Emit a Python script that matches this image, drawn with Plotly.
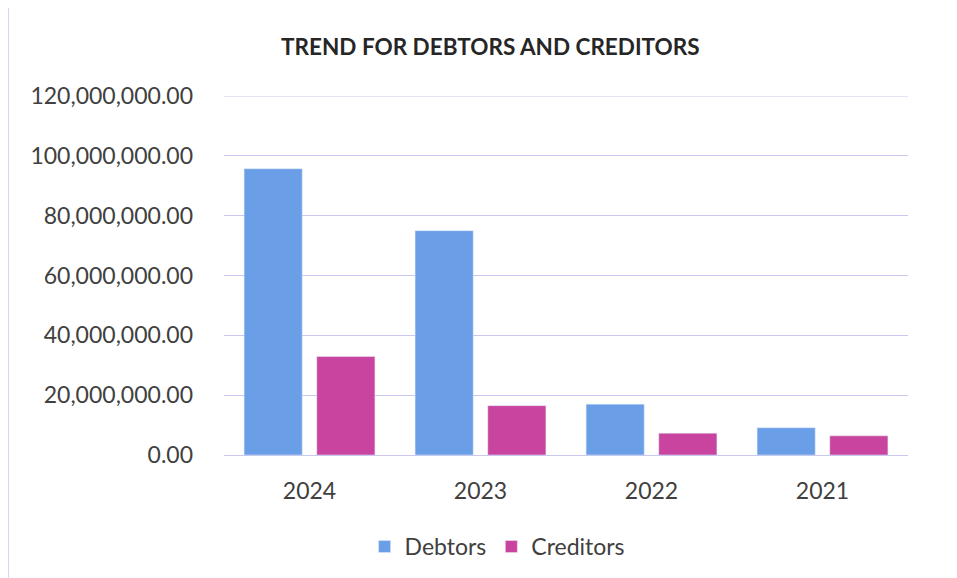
import plotly.graph_objects as go

years = ["2024", "2023", "2022", "2021"]
debtors = [95_700_000, 75_000_000, 17_000_000, 9_100_000]
creditors = [32_900_000, 16_500_000, 7_300_000, 6_400_000]
y_ticks = [0, 20_000_000, 40_000_000, 60_000_000, 80_000_000, 100_000_000, 120_000_000]

FONT = "Lato, Carlito, Calibri, sans-serif"
TEXT = "#404040"
GRID = "#C9C9F0"

fig = go.Figure()
fig.add_trace(go.Bar(name="Debtors", x=years, y=debtors, marker_color="#6A9FE8"))
fig.add_trace(go.Bar(name="Creditors", x=years, y=creditors, marker_color="#C8449E"))

# page renders with ~8px body offset, so margins are shifted to compensate
fig.update_layout(
    width=957, height=578,
    paper_bgcolor="white", plot_bgcolor="white",
    margin=dict(l=216, r=57, t=88, b=131),
    barmode="group", bargap=0.15, bargroupgap=0.2,
    font=dict(family=FONT, color=TEXT, size=23),
    title=dict(text="<b>TREND FOR DEBTORS AND CREDITORS</b>",
               x=0.504, xanchor="center", y=0.932, yanchor="middle",
               font=dict(size=22.5, color="#262626")),
    legend=dict(orientation="h", x=0.40, xanchor="center", y=-0.255, yanchor="middle",
                font=dict(size=23), itemwidth=30, traceorder="normal"),
    showlegend=True,
)
fig.update_xaxes(showgrid=False, showline=False, ticks="", tickfont=dict(size=23),
                 ticklabelstandoff=20)
fig.update_yaxes(range=[0, 120_000_000], tickvals=y_ticks, tickformat=",.2f",
                 showgrid=True, gridcolor=GRID, gridwidth=1,
                 zeroline=True, zerolinecolor=GRID, zerolinewidth=1,
                 showline=False, ticks="", tickfont=dict(size=23),
                 ticklabelstandoff=30)

# top gridline (plotly skips it at the range edge)
fig.add_hline(y=y_ticks[-1], line=dict(color=GRID, width=1), layer="below")

# faint left border of the original image
fig.add_shape(type="line", xref="paper", yref="paper", x0=-0.315, x1=-0.315, y0=-0.4, y1=1.3,
              line=dict(color="#D6D6F0", width=1))

fig.write_html("out.html")
